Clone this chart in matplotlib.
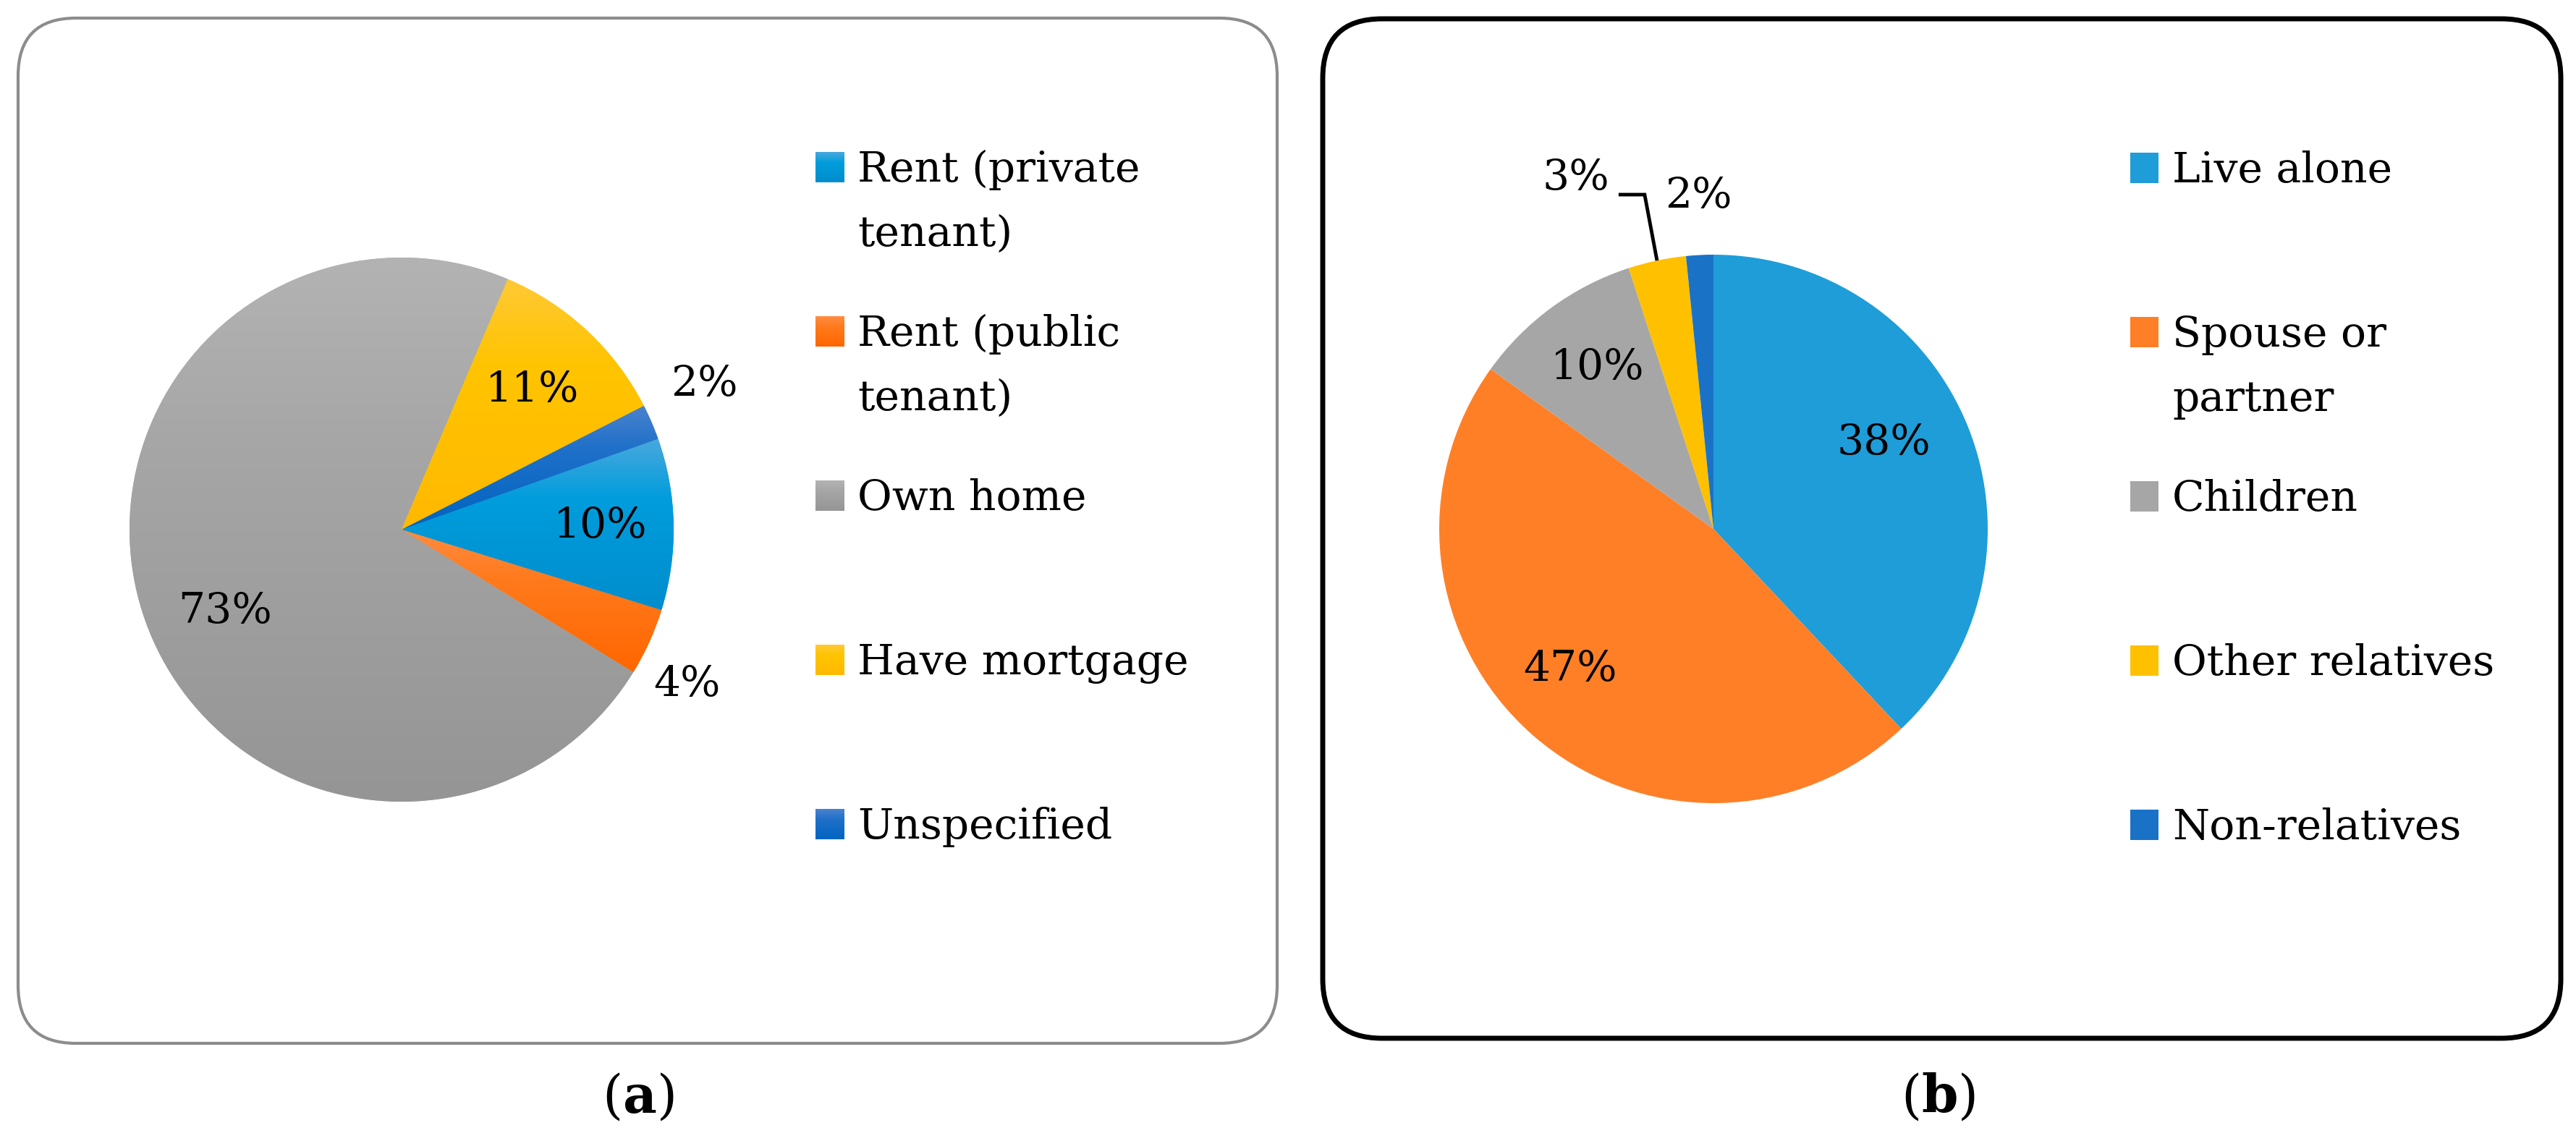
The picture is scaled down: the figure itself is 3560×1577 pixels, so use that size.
import numpy as np
import matplotlib
matplotlib.use('Agg')
import matplotlib.pyplot as plt
from matplotlib.patches import FancyBboxPatch
from matplotlib.colors import to_rgb

# (a) housing tenure
tenure_labels = ['Rent (private\ntenant)', 'Rent (public\ntenant)', 'Own home',
                 'Have mortgage', 'Unspecified']
tenure_values = [10.2, 4.0, 72.6, 11.1, 2.1]
# gradient fill: top / middle / bottom colour of each slice
tenure_top = ['#4aa8de', '#ff8c42', '#b3b3b3', '#ffc935', '#4a82cf']
tenure_mid = ['#009ddc', '#ff7a1c', '#a6a6a6', '#ffc400', '#1f70c9']
tenure_bot = ['#008dcd', '#ff6600', '#959595', '#ffb900', '#0064c0']

# (b) living arrangement
living_labels = ['Live alone', 'Spouse or\npartner', 'Children',
                 'Other relatives', 'Non-relatives']
living_values = [38.0, 46.9, 10.1, 3.4, 1.6]
living_colors = ['#1e9dd8', '#ff7f27', '#a6a6a6', '#ffc000', '#1a72c7']

W, H = 3560, 1577
FS = 42
plt.rcParams['font.family'] = 'DejaVu Serif'
plt.rcParams['mathtext.fontset'] = 'dejavuserif'

fig = plt.figure(figsize=(W / 100, H / 100), dpi=100)
bg = fig.add_axes([0, 0, 1, 1])
bg.axis('off')


def gradient(top, mid, bot, n=256, s=0.35):
    t = np.linspace(0, 1, n)[:, None]
    c0, c1, c2 = (np.array(to_rgb(c)) for c in (top, mid, bot))
    g = np.where(t < s, c0 + (c1 - c0) * (t / s), c1 + (c2 - c1) * ((t - s) / (1 - s)))
    return g[:, None, :]


# panel frames
bg.add_patch(FancyBboxPatch((25, 25), 1740, 1417,
                            boxstyle='round,pad=0,rounding_size=80',
                            fc='white', ec='#8c8c8c', lw=3, zorder=1))
bg.add_patch(FancyBboxPatch((1828, 26), 1711, 1409,
                            boxstyle='round,pad=0,rounding_size=82',
                            fc='white', ec='black', lw=5, zorder=1))


def pie_axes(cx, cy, R, L=1.7):
    ax = fig.add_axes([(cx - L * R) / W, (H - cy - L * R) / H, 2 * L * R / W, 2 * L * R / H])
    return ax, L


def pct(p):
    return f'{p:.0f}%'


# ---- pie (a) ----
ax1, L1 = pie_axes(555, 732, 376)
wedges1, _, pcts1 = ax1.pie(tenure_values, colors=tenure_mid, startangle=19.5,
                            counterclock=False, autopct=pct,
                            textprops=dict(fontsize=FS),
                            wedgeprops=dict(linewidth=0))
for w, top, mid, bot in zip(wedges1, tenure_top, tenure_mid, tenure_bot):
    x0, y0, x1, y1 = w.get_path().get_extents().extents
    im = ax1.imshow(gradient(top, mid, bot), extent=[x0, x1, y0, y1], origin='upper',
                    aspect='auto', zorder=1.5)
    im.set_clip_path(w)
tenure_pct_pos = [(0.731, 0.013), (1.048, -0.569), (-0.649, -0.301),
                  (0.481, 0.513), (1.114, 0.535)]
for t, p in zip(pcts1, tenure_pct_pos):
    t.set_position(p)
ax1.set_xlim(-L1, L1)
ax1.set_ylim(-L1, L1)
ax1.axis('off')

# ---- pie (b) ----
ax2, L2 = pie_axes(2368, 731, 379)
wedges2, _, pcts2 = ax2.pie(living_values, colors=living_colors, startangle=90,
                            counterclock=False, autopct=pct,
                            textprops=dict(fontsize=FS),
                            wedgeprops=dict(linewidth=0))
living_pct_pos = [(0.620, 0.314), (-0.522, -0.512), (-0.422, 0.588),
                  (-0.501, 1.280), (-0.055, 1.214)]
for t, p in zip(pcts2, living_pct_pos):
    t.set_position(p)
# leader line for the small "Other relatives" slice
w = wedges2[3]
mid_ang = np.deg2rad((w.theta1 + w.theta2) / 2)
lx, ly = living_pct_pos[3]
ax2.plot([lx + 0.155, lx + 0.25, np.cos(mid_ang)], [ly - 0.061, ly - 0.061, np.sin(mid_ang)],
         color='black', lw=3.5, solid_joinstyle='miter', solid_capstyle='butt')
ax2.set_xlim(-L2, L2)
ax2.set_ylim(-L2, L2)
ax2.axis('off')


# ---- legends ----
def legend(x_mark, x_text, base0, labels, grads=None, colors=None):
    for i, lab in enumerate(labels):
        b = base0 + 227 * i
        if grads is not None:
            bg.imshow(gradient(*grads[i]), extent=[x_mark, x_mark + 40, b + 1, b - 41],
                      origin='upper', aspect='auto', zorder=3)
        else:
            bg.add_patch(plt.Rectangle((x_mark, b - 41), 39, 42, fc=colors[i], lw=0, zorder=3))
        for j, line in enumerate(lab.split('\n')):
            bg.text(x_text, b + 89 * j, line, fontsize=FS, ha='left', va='baseline', zorder=4)


legend(1127, 1185, 251, tenure_labels,
       grads=list(zip(tenure_top, tenure_mid, tenure_bot)))
legend(2944, 3002, 252, living_labels, colors=living_colors)

bg.text(882, 1517, r'($\mathbf{a}$)', fontsize=52, ha='center', va='center')
bg.text(2679, 1517, r'($\mathbf{b}$)', fontsize=52, ha='center', va='center')

bg.set_xlim(0, W)
bg.set_ylim(H, 0)

fig.savefig('out.png', dpi=100)
